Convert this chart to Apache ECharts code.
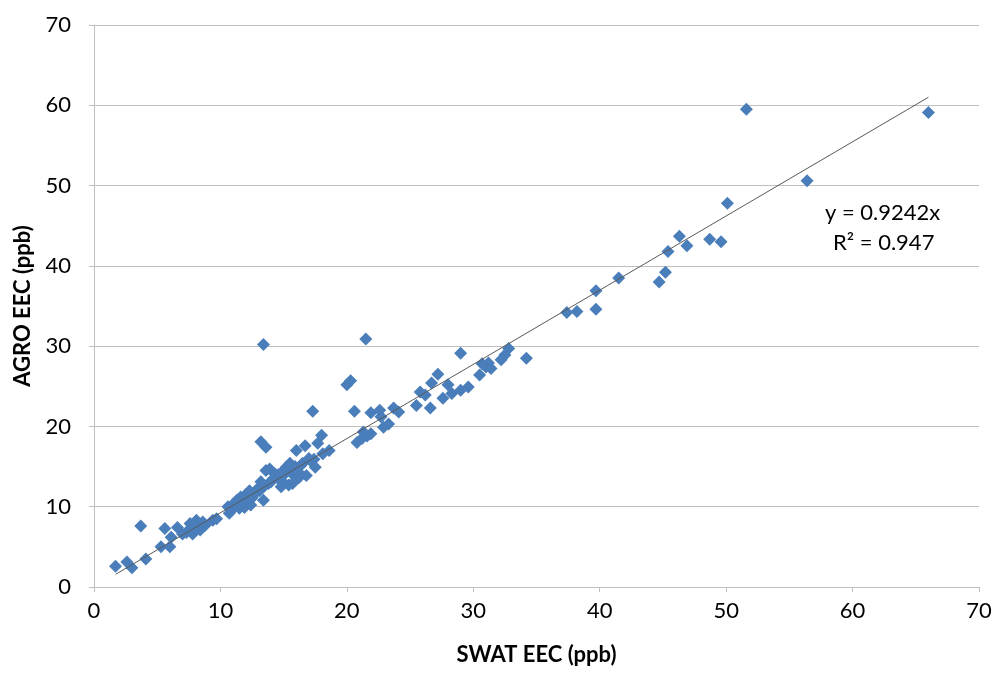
<!DOCTYPE html>
<html>
<head>
<meta charset="utf-8">
<script src="https://cdn.jsdelivr.net/npm/echarts@6/dist/echarts.min.js"></script>
<style>
html,body{margin:0;padding:0;background:#fff;}
#chart{width:997px;height:674px;}
</style>
</head>
<body>
<div id="chart"></div>
<script>
// SWAT EEC (x) vs AGRO EEC (y), ppb
var swatLow = [1.7,2.6,3.0,4.1,3.7,5.3,5.6,6.1,6.0,6.6,7.3,7.6,7.8,8.1,8.4,8.8,8.0,7.5,8.6,9.7,9.4,7.0,8.3];
var agroLow = [2.6,3.1,2.4,3.5,7.6,5.0,7.3,6.2,5.0,7.4,6.8,7.9,6.6,8.3,7.1,7.7,7.6,7.1,8.1,8.5,8.3,6.6,7.4];

var swatMid = [10.6,10.9,10.7,11.0,11.3,11.5,11.8,11.6,12.1,12.3,12.0,12.5,12.7,11.9,12.4,13.4,13.2,13.5,13.0,
               13.4,13.2,13.6,13.6,14.0,14.4,14.8,15.2,13.9,14.3,14.7,15.4,15.0,15.6,15.7,16.0,16.3,16.5,16.8,
               16.0,16.7,17.1,17.4,15.5,15.0,14.6,16.2,17.0,17.5,17.3,17.7,18.0,18.1,18.6,
               11.2,11.7,12.2,12.8,13.8,14.2,14.9,15.3,15.9,16.4,13.1,12.6];
var agroMid = [10.0,9.6,9.2,10.3,10.8,9.8,10.4,11.2,10.6,12.0,11.5,11.1,11.7,9.9,10.2,10.8,13.1,12.6,12.3,
               30.2,18.1,17.4,14.5,13.1,13.7,12.5,14.9,14.7,14.1,13.3,12.7,13.0,14.2,12.9,14.3,14.1,15.4,13.9,
               17.0,17.6,15.8,15.9,15.4,14.5,14.0,13.6,16.0,14.9,21.9,17.9,18.9,16.6,17.0,
               10.1,11.0,11.3,12.0,12.9,13.5,13.8,14.8,15.0,15.2,12.0,11.4];

var swatUpper = [20.0,20.3,21.5,20.6,21.9,22.6,22.7,23.7,24.1,22.9,23.3,21.3,20.8,21.2,21.6,21.9,
                 25.5,26.6,25.8,26.2,26.7,27.2,27.6,28.0,28.3,29.0,29.6,29.0,30.5,30.7,31.0,31.4,32.2,32.5,32.8,34.2,31.2];
var agroUpper = [25.2,25.7,30.9,21.9,21.7,22.0,21.2,22.3,21.8,19.9,20.3,19.3,18.0,18.5,18.8,19.1,
                 22.6,22.3,24.3,23.9,25.4,26.5,23.5,25.2,24.1,24.5,24.9,29.1,26.4,27.8,27.4,27.2,28.3,28.9,29.7,28.5,27.9];

var swatHigh = [37.4,38.2,39.7,39.7,41.5,44.7,45.2,45.4,46.3,46.9,48.7,49.6,50.1,51.6,56.4,66.0];
var agroHigh = [34.2,34.3,34.6,36.9,38.5,38.0,39.2,41.8,43.7,42.5,43.3,43.0,47.8,59.5,50.6,59.1];

var slope = 0.9242;
var equationText = 'y = 0.9242x';
var r2Text = 'R² = 0.947';

var swat = swatLow.concat(swatMid, swatUpper, swatHigh);
var agro = agroLow.concat(agroMid, agroUpper, agroHigh);
var points = swat.map(function(x, i){ return [x, agro[i]]; });
var xmin = Math.min.apply(null, swat), xmax = Math.max.apply(null, swat);
var trend = [[xmin, slope * xmin], [xmax, slope * xmax]];

var font = 'Lato, "Open Sans", sans-serif';
var chart = echarts.init(document.getElementById('chart'));
chart.setOption({
  animation: false,
  backgroundColor: '#fff',
  grid: {left: 94, right: 18, top: 25, bottom: 87},
  xAxis: {
    type: 'value', min: 0, max: 70, interval: 10,
    name: 'SWAT EEC (ppb)', nameLocation: 'middle', nameGap: 57,
    nameTextStyle: {fontFamily: font, fontSize: 22, fontWeight: 'bold', color: '#000'},
    axisLine: {show: true, lineStyle: {color: '#BFBFBF', width: 1}},
    axisTick: {show: true, length: 5, lineStyle: {color: '#BFBFBF'}},
    axisLabel: {fontFamily: font, fontSize: 22, color: '#000', margin: 13},
    splitLine: {show: false}
  },
  yAxis: {
    type: 'value', min: 0, max: 70, interval: 10,
    name: 'AGRO EEC (ppb)', nameLocation: 'middle', nameGap: 60, nameRotate: 90,
    nameTextStyle: {fontFamily: font, fontSize: 22, fontWeight: 'bold', color: '#000'},
    axisLine: {show: true, lineStyle: {color: '#BFBFBF', width: 1}},
    axisTick: {show: true, length: 5, lineStyle: {color: '#BFBFBF'}},
    axisLabel: {fontFamily: font, fontSize: 22, color: '#000', margin: 23},
    splitLine: {show: true, lineStyle: {color: '#BFBFBF', width: 1}}
  },
  series: [
    {
      type: 'scatter', data: points, symbol: 'diamond', symbolSize: 13,
      itemStyle: {color: '#4A7EBB', opacity: 1}, z: 3
    },
    {
      type: 'line', data: trend, symbol: 'none', z: 4,
      lineStyle: {color: '#595959', width: 1}
    }
  ],
  graphic: [
    {type: 'text', left: 825, top: 202, style: {text: equationText, font: '22px ' + font, fill: '#000'}},
    {type: 'text', left: 833, top: 232, style: {text: r2Text, font: '22px ' + font, fill: '#000'}}
  ]
});
</script>
</body>
</html>
